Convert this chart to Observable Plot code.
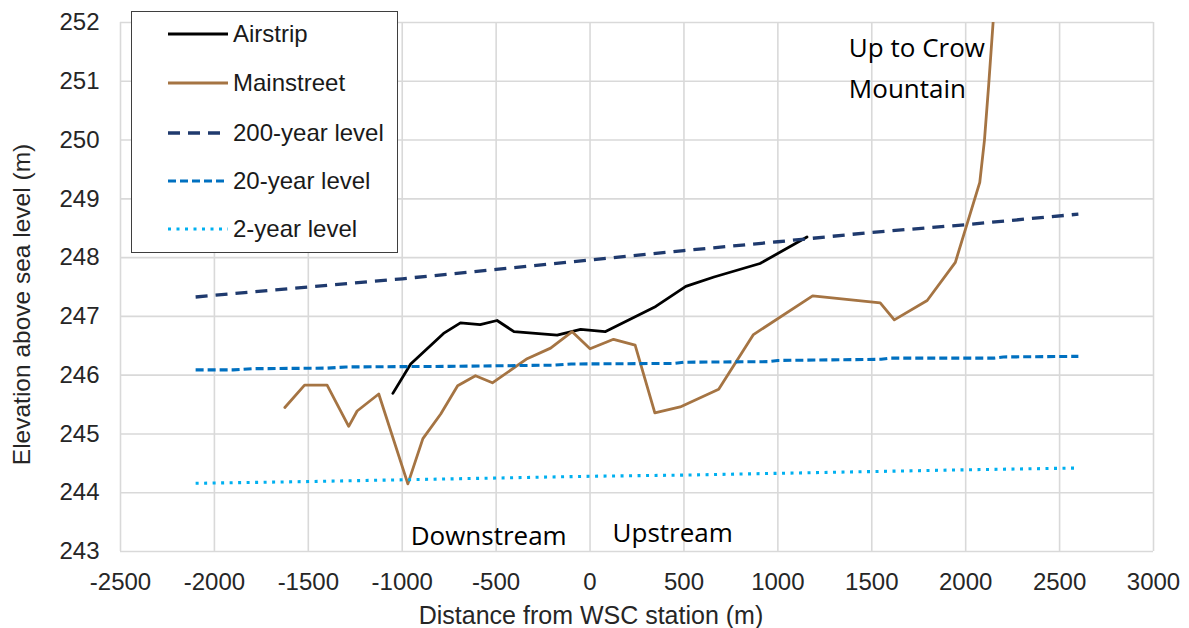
<!DOCTYPE html>
<html>
<head>
<meta charset="utf-8">
<script src="https://cdn.jsdelivr.net/npm/d3@7"></script>
<script src="https://cdn.jsdelivr.net/npm/@observablehq/plot@0.6"></script>
<style>
html, body { margin: 0; padding: 0; background: #fff; }
#wrap { position: relative; width: 1189px; height: 628px; overflow: hidden; background: #fff; }
#legend { position: absolute; left: 131px; top: 11px; width: 267px; height: 242px; border: 1.6px solid #3f3f3f; background: #fff; box-sizing: border-box; }
.row { position: absolute; left: 0; height: 30px; display: flex; align-items: center; font: 24px "Liberation Sans", Arial, sans-serif; color: #1a1a1a; white-space: nowrap; }
.row svg { display: block; margin-left: 36px; margin-right: 5px; }
</style>
</head>
<body>
<div id="wrap"></div>
<script>
// ---- data ----
const xTicks = [-2500, -2000, -1500, -1000, -500, 0, 500, 1000, 1500, 2000, 2500, 3000];
const yTicks = [243, 244, 245, 246, 247, 248, 249, 250, 251, 252];

const airstrip = [
  [-1050, 245.69], [-955, 246.19], [-780, 246.71], [-690, 246.89], [-585, 246.86],
  [-495, 246.93], [-405, 246.74], [-175, 246.68], [-50, 246.78], [80, 246.74],
  [350, 247.17], [510, 247.51], [660, 247.67], [905, 247.90], [1155, 248.35]
];
const mainstreet = [
  [-1625, 245.45], [-1520, 245.83], [-1400, 245.83], [-1285, 245.13], [-1240, 245.39],
  [-1125, 245.68], [-970, 244.15], [-890, 244.92], [-795, 245.34], [-705, 245.82],
  [-610, 245.99], [-520, 245.87], [-335, 246.28], [-210, 246.46], [-95, 246.74],
  [0, 246.45], [125, 246.61], [240, 246.51], [345, 245.36], [480, 245.46],
  [685, 245.76], [870, 246.69], [1185, 247.35], [1545, 247.23], [1620, 246.94],
  [1795, 247.27], [1945, 247.92], [2075, 249.28], [2100, 250.0], [2123, 250.96], [2146, 252.0]
];
const level200 = [
  [-2100, 247.33], [-1500, 247.50], [-1000, 247.64], [-500, 247.80], [0, 247.96],
  [500, 248.12], [1000, 248.27], [1500, 248.43], [2000, 248.56], [2600, 248.74]
];
const level20 = [
  [-2100, 246.09], [-1900, 246.09], [-1800, 246.11], [-1400, 246.12], [-1300, 246.14],
  [-750, 246.15], [-200, 246.17], [-100, 246.19], [450, 246.20], [500, 246.22],
  [950, 246.23], [1000, 246.25], [1550, 246.27], [1600, 246.29], [2150, 246.29],
  [2200, 246.31], [2600, 246.32]
];
const level2 = [
  [-2100, 244.16], [-1500, 244.19], [-1000, 244.22], [-500, 244.25], [0, 244.28],
  [500, 244.30], [1000, 244.33], [1500, 244.36], [2000, 244.39], [2600, 244.42]
];

const seriesNames = ["Airstrip", "Mainstreet", "200-year level", "20-year level", "2-year level"];
const seriesData = [airstrip, mainstreet, level200, level20, level2];
const seriesColors = ["#000000", "#a57443", "#1f3a6e", "#0070c0", "#00b0f0"];
const seriesDash = [null, null, "12,8", "8,4", "3,5.5"];
const seriesWidth = [2.8, 2.8, 3.3, 3.1, 3.1];

const annoText = ["Downstream", "Upstream", "Up to Crow", "Mountain"];
const annoX = [-955, 120, 1378, 1378];
const annoY = [243.255, 243.31, 251.55, 250.86];

const xLabel = "Distance from WSC station (m)";
const yLabel = "Elevation above sea level (m)";

// ---- chart ----
const fontAxis = "'Liberation Sans', Arial, sans-serif";
const lineMarks = [];
[0, 1, 2, 3, 4].forEach(i => {
  lineMarks.push(Plot.line(seriesData[i], {
    x: d => d[0], y: d => d[1],
    stroke: seriesColors[i], strokeWidth: seriesWidth[i],
    strokeDasharray: seriesDash[i] || undefined,
    strokeLinejoin: "round", strokeLinecap: seriesDash[i] ? "butt" : "round",
    clip: true
  }));
});

const annotations = annoText.map((t, i) => ({t, x: annoX[i], y: annoY[i]}));

const chart = Plot.plot({
  width: 1189, height: 628,
  marginLeft: 120, marginRight: 36, marginTop: 22, marginBottom: 77,
  x: {domain: [-2500, 3000]},
  y: {domain: [243, 252]},
  style: {fontFamily: fontAxis, fontSize: "24px", color: "#262626", background: "transparent", overflow: "visible"},
  marks: [
    Plot.gridX(xTicks, {stroke: "#d9d9d9", strokeOpacity: 1, strokeWidth: 1.6}),
    Plot.gridY(yTicks, {stroke: "#d9d9d9", strokeOpacity: 1, strokeWidth: 1.6}),
    Plot.axisX(xTicks, {tickSize: 0, tickPadding: 21, fontSize: 24, label: null, tickFormat: d => String(d), fill: "#262626"}),
    Plot.axisY(yTicks, {tickSize: 0, tickPadding: 21, fontSize: 24, label: null, tickFormat: d => String(d), fill: "#262626"}),
    ...lineMarks,
    Plot.text(annotations, {x: "x", y: "y", text: "t", textAnchor: "start", lineAnchor: "middle",
      fontFamily: "'Open Sans', 'Noto Sans', sans-serif", fontSize: 26, fill: "#000"}),
    Plot.text([xLabel], {frameAnchor: "bottom", textAnchor: "middle", dy: 72, dx: -46, lineAnchor: "bottom", fontSize: 25, fill: "#262626"}),
    Plot.text([yLabel], {frameAnchor: "left", textAnchor: "middle", rotate: -90, dx: -98, dy: 17.5, lineAnchor: "middle", fontSize: 24.5, fill: "#262626"})
  ]
});

const wrap = document.getElementById("wrap");
wrap.appendChild(chart);

// ---- legend (HTML overlay inside the plot area) ----
const legend = document.createElement("div");
legend.id = "legend";
const rowCenters = [22.3, 70.7, 120.7, 169, 217.3];
seriesNames.forEach((name, i) => {
  const row = document.createElement("div");
  row.className = "row";
  row.style.top = (rowCenters[i] - 15) + "px";
  const ns = "http://www.w3.org/2000/svg";
  const svg = document.createElementNS(ns, "svg");
  svg.setAttribute("width", 60); svg.setAttribute("height", 10);
  const ln = document.createElementNS(ns, "line");
  ln.setAttribute("x1", 0); ln.setAttribute("x2", 60);
  ln.setAttribute("y1", 5); ln.setAttribute("y2", 5);
  ln.setAttribute("stroke", seriesColors[i]);
  ln.setAttribute("stroke-width", seriesWidth[i]);
  if (seriesDash[i]) ln.setAttribute("stroke-dasharray", seriesDash[i]);
  svg.appendChild(ln);
  const label = document.createElement("span");
  label.textContent = name;
  row.appendChild(svg); row.appendChild(label);
  legend.appendChild(row);
});
wrap.appendChild(legend);
</script>
</body>
</html>
